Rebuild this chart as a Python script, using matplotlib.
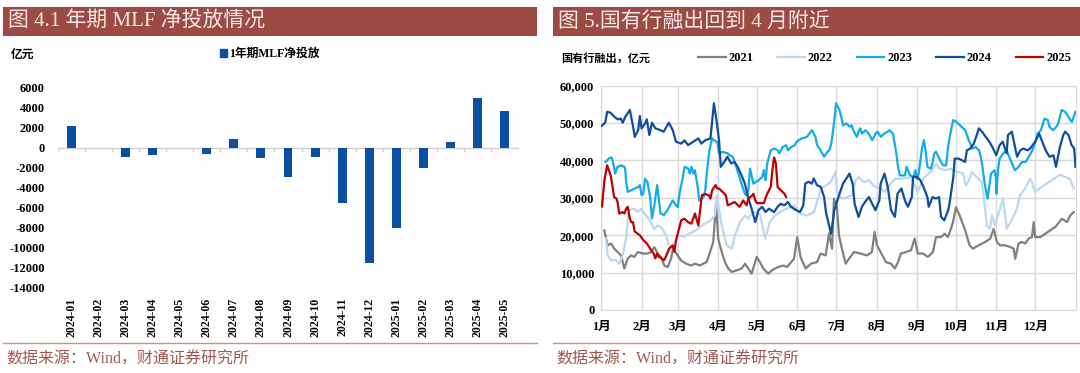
# -*- coding: utf-8 -*-
import matplotlib
matplotlib.use('Agg')
import matplotlib.pyplot as plt
import numpy as np
from matplotlib.patches import Rectangle
from matplotlib.lines import Line2D

plt.rcParams['font.family'] = ['Liberation Serif', 'Noto Sans CJK SC']

# ---------------- 左图：1年期MLF净投放（亿元） ----------------
mlf_months = ['2024-01', '2024-02', '2024-03', '2024-04', '2024-05', '2024-06',
              '2024-07', '2024-08', '2024-09', '2024-10', '2024-11', '2024-12',
              '2025-01', '2025-02', '2025-03', '2025-04', '2025-05']
mlf_net = [2160, 10, -940, -700, 0, -550, 950, -1010, -2910, -890, -5450,
           -11450, -7950, -2000, 630, 5000, 3750]

# ---------------- 右图：国有行融出（亿元），横轴为一年中的第几天 ----------------
month_labels = ['1月', '2月', '3月', '4月', '5月', '6月', '7月', '8月', '9月', '10月', '11月', '12月']
month_start = [0, 31, 59, 90, 120, 151, 181, 212, 243, 273, 304, 334]

d2021 = [2.3, 4.9, 7.5, 10, 12.6, 15.2, 17.7, 20.3, 22.9, 25.4, 28, 31.9, 35.7, 38.2, 40.8, 43.4, 45.9,
         48.5, 51.1, 53.6, 55.4, 58.8, 61.3, 65.2, 69, 72.1, 76, 78.5, 81.1, 83.7, 86.2, 88.3, 90, 92.7,
         95.2, 97.7, 100.4, 104.2, 108.1, 110.6, 113.1, 115.7, 119.6, 122.1, 124.7, 128.5, 131.1, 133.7,
         136.2, 140.1, 142.9, 145.2, 148.3, 150.8, 153.5, 157.3, 161.4, 166, 168.9, 172.7, 175.3, 177.6,
         179.1, 181.4, 182.9, 185.2, 188.1, 190.6, 194.5, 199.6, 204.5, 208.3, 210.4, 212.2, 215, 219.1,
         223, 226, 228.4, 230.6, 234.5, 238.4, 241.2, 243.7, 247.6, 251.4, 255.3, 257.6, 261.4, 264.3,
         266.8, 269.1, 270.7, 273, 275.8, 279.7, 283.5, 286, 290.4, 295.5, 299.4, 302, 304.5, 306.8,
         310.7, 314.5, 317.4, 318.6, 321.2, 323.8, 326.3, 328.9, 331.5, 332.8, 334, 337.9, 341.7, 345.5,
         349.4, 354.6, 358.4, 361, 363.6]
v2021 = [21300, 17300, 17800, 16400, 15500, 14600, 11100, 13700, 14600, 14200, 15500, 15100, 15100,
         15500, 16800, 15100, 14200, 11900, 11500, 13700, 16400, 14600, 13300, 12400, 11900, 12400,
         11900, 12400, 12800, 15500, 18200, 28500, 19100, 15500, 12800, 11100, 10200, 10600, 11100,
         12400, 11100, 9700, 14200, 12800, 11100, 9700, 10600, 11100, 11500, 11900, 11500, 12400, 13700,
         19500, 14000, 11100, 12400, 12800, 15100, 14600, 20500, 16400, 29800, 27600, 20000, 16400,
         12400, 13700, 15500, 15100, 14600, 15500, 20900, 17300, 15500, 12800, 12400, 11100, 12800,
         15100, 15500, 16000, 19100, 15100, 15100, 14200, 15500, 19500, 19500, 20400, 19500, 21700,
         23500, 27500, 25300, 21700, 17300, 16400, 17300, 18200, 19100, 21700, 18200, 17300, 17300,
         16900, 16400, 13700, 17800, 18200, 17800, 19100, 19500, 23500, 19500, 19500, 20400, 21300,
         22200, 24400, 23500, 25300, 26200]

d2022 = [3.6, 4.9, 7.5, 11.3, 13.6, 16.5, 19, 21.3, 25.2, 28, 30.6, 34.4, 36.7, 40.6, 43.4, 45.9, 49.8,
         52.1, 55, 57.5, 59.8, 63.6, 67.5, 70.3, 73.7, 78.3, 83.6, 87.5, 88.8, 92.7, 96.5, 100.4, 102.9,
         106.7, 110.6, 112.9, 116.7, 122.1, 126, 129.8, 133.6, 137.5, 142.7, 148.3, 153.5, 158.3, 163.7,
         166, 168.9, 172.7, 176.5, 180.4, 181.4, 185.2, 189.1, 192.9, 195.8, 198.3, 202.2, 206, 209.9,
         215, 218.3, 220.6, 226, 230.6, 238.4, 243.7, 247.6, 253.7, 257.6, 260.6, 264.5, 269.1, 273.7,
         278.3, 280.6, 283, 285.3, 289.1, 293, 294.5, 296.8, 299.1, 300.7, 303, 309.2, 312.2, 317.6,
         319.9, 322.2, 326.1, 329.9, 331.5, 333.8, 336.9, 340.7, 344.6, 348.4, 353, 356.9, 360.7, 363.8]
v2022 = [19100, 14600, 13300, 13300, 12400, 14600, 19100, 26700, 27100, 26200, 27100, 25300, 24400,
         21700, 22600, 22200, 20000, 17300, 16800, 18200, 20000, 19600, 20400, 20900, 21500, 22900,
         23800, 25300, 30700, 22600, 17300, 16400, 20000, 23500, 25300, 24400, 26200, 25700, 19100,
         23500, 25300, 26200, 27100, 28000, 25700, 25300, 26200, 28900, 32400, 33300, 34200, 36900,
         31600, 29800, 30200, 30700, 34700, 35500, 34200, 34700, 33200, 32400, 31600, 32900, 35100,
         35100, 35600, 31600, 35100, 37000, 39100, 37800, 37400, 37800, 37000, 36600, 33300, 34700,
         36900, 35500, 34200, 30000, 22600, 21700, 25300, 22600, 29800, 21700, 25300, 27100, 30700,
         32400, 35100, 34200, 31600, 32400, 33300, 34200, 35100, 36200, 35600, 35100, 32400]

d2023 = [3.2, 5.8, 8, 9.8, 10.6, 12.5, 15, 17.8, 18.5, 19, 20.4, 23, 25.7, 28.4, 29.7, 31, 32.3, 33.7,
         35.5, 37.6, 39, 40.8, 43, 45.6, 48.2, 50.9, 53.5, 54.9, 57.5, 58.8, 60.2, 62.8, 64.1, 66.8, 68.1,
         69.4, 70.8, 72, 74.2, 75.3, 78.7, 80, 81.4, 83.2, 85.3, 86.7, 89.3, 90.6, 93.3, 97.3, 98.6,
         101.2, 103.9, 107.9, 110.5, 111.8, 113.2, 114.5, 117.1, 121.1, 123.8, 125.1, 126.4, 127.7,
         130.4, 133, 135.7, 137, 139.7, 142.3, 143.6, 146.3, 148.9, 150.3, 154.2, 158.2, 162.2, 163.5,
         164.8, 166.2, 168.8, 170.1, 171.5, 174.1, 175.4, 176.8, 178.1, 179.4, 180.7, 183.4, 184.7, 186,
         188.7, 191.3, 192.7, 194, 195.3, 196.7, 198, 199.3, 200.6, 203.3, 205.9, 207.2, 208.6, 211.2,
         212.5, 215.2, 217.8, 220.5, 221.8, 224.5, 225.8, 227.1, 228.4, 229.8, 233.7, 235, 237.7, 240.4,
         241.7, 243, 244.3, 245.7, 247, 248.3, 249.6, 251, 253.6, 254.9, 256.3, 257.6, 260.2, 262.9,
         265.5, 266.9, 268.2, 270.8, 273.5, 276.1, 280.1, 282.8, 284.1, 285.4, 288.1, 290.7, 292.1,
         293.4, 294.7, 296, 297.3, 300, 302.6, 303.7, 304.2, 305.3, 306.6, 309.3, 311.9, 314.6, 317.2,
         318.5, 321.2, 323.8, 326.5, 329.1, 331.8, 334.4, 335.8, 338.4, 341.1, 343.7, 345, 347.7, 350.3,
         351.7, 353, 354.3, 357, 359.6, 361, 362.3, 363.6, 364.9]
v2023 = [39600, 40500, 40800, 38300, 36500, 38300, 38700, 38300, 37400, 34700, 31600, 32000, 32500,
         32900, 33400, 30700, 31100, 35100, 34200, 30200, 24500, 28000, 33400, 25800, 25400, 26700,
         28400, 29300, 28000, 27500, 31100, 35600, 38300, 37900, 36500, 38300, 36500, 37400, 32900,
         29300, 30200, 32000, 37400, 42700, 45900, 45400, 45000, 41900, 42300, 41900, 41400, 41000,
         38300, 33800, 31100, 30700, 32000, 37800, 33800, 34700, 35600, 37400, 34700, 39200, 42700,
         43200, 42700, 41900, 43600, 44100, 42700, 43600, 44100, 45000, 45900, 46300, 48100, 47200,
         46300, 44100, 42700, 41900, 41000, 42300, 42700, 44100, 47200, 50800, 55300, 53500, 51700,
         49400, 49900, 49000, 49400, 48100, 47200, 46300, 47700, 48600, 47200, 48100, 47200, 46300,
         45400, 47200, 47700, 46300, 47200, 47700, 48100, 47200, 44500, 41900, 38300, 36000, 36000,
         38300, 36000, 35600, 37400, 35100, 36500, 40100, 43600, 45400, 42700, 38300, 37800, 39200,
         41900, 42300, 40500, 38700, 38700, 43600, 46300, 50800, 50300, 49400, 48100, 45400, 44500,
         43200, 43600, 42700, 41000, 38300, 34700, 32000, 29800, 36500, 37400, 35600, 31100, 37400,
         40500, 41900, 42700, 40500, 38300, 37400, 38300, 39600, 39600, 41000, 42700, 45400, 47200,
         48100, 51200, 50800, 49000, 48100, 49000, 49900, 51700, 53500, 53000, 51700, 50800, 50300,
         51700, 53000]

d2024 = [0, 3, 4.5, 7, 10, 12.5, 15, 16.5, 18.5, 21, 22, 24.5, 25.7, 28.4, 29.7, 31, 33.7, 35, 37, 39,
         41.6, 44, 48, 52, 55, 57.5, 61.5, 64, 66.8, 70.7, 74.7, 77, 80, 84, 86.7, 89, 90.6, 92, 94.6,
         97, 100, 102.5, 105, 108, 110.5, 113, 116, 118.5, 121, 123.8, 126.4, 129, 133, 135.7, 138, 141,
         143.6, 146, 150, 153, 155.5, 157, 159.5, 162, 163.5, 166, 169, 171.5, 173, 176.8, 179.4, 183,
         186, 188.7, 191, 193.5, 195, 198, 200.6, 203, 206, 208.6, 211, 214, 215, 218, 220.5, 223, 226,
         228, 231, 233.7, 236, 239, 240, 243, 245.6, 248, 251, 252, 255, 257.6, 260, 261.5, 264, 267,
         268, 271, 272, 275, 277.5, 280, 281.4, 284, 286.7, 289, 290.7, 293, 296, 298.7, 301, 304,
         306.6, 309, 312, 313, 316, 318.5, 320, 322.5, 325, 328, 330, 332, 334, 337, 340, 342, 345, 348,
         350, 353, 355.6, 357, 359.6, 362, 364, 365]
v2024 = [49200, 50100, 53000, 52800, 51700, 51000, 51200, 50100, 51700, 53000, 53500, 49000, 46300,
         48100, 51900, 48600, 49900, 51000, 46800, 50100, 48600, 48300, 47700, 50100, 48100, 45000,
         44500, 45400, 44100, 45000, 45900, 44500, 45400, 45900, 55300, 49900, 45400, 38300, 39600,
         41000, 39200, 39600, 38300, 36000, 33800, 30200, 26700, 23500, 26700, 27600, 26200, 27100,
         26200, 27600, 28400, 28000, 28900, 27600, 26700, 26200, 28000, 33800, 34300, 33800, 35200,
         33400, 32900, 30200, 26000, 20400, 26700, 30700, 33800, 35200, 36500, 33800, 28400, 24900,
         27600, 28900, 30200, 28400, 26700, 29300, 33800, 36500, 32900, 26700, 24900, 31100, 32500,
         29300, 27600, 30200, 35600, 35600, 34700, 32900, 30200, 27600, 30200, 29800, 30200, 24900,
         24000, 26700, 28400, 35600, 40500, 40500, 40100, 39600, 42700, 43200, 44500, 46800, 48600,
         47700, 46300, 45000, 43600, 41400, 44100, 45000, 41900, 46800, 47700, 43600, 41000, 42700,
         43200, 42700, 43200, 44100, 45000, 47200, 44500, 42700, 41000, 41400, 38300, 43600, 46800,
         47700, 46800, 44100, 43200, 38300]

d2025 = [0.5, 2.4, 4.5, 5.8, 7.2, 8.5, 9.8, 11.7, 12.5, 13.8, 16.4, 17.8, 19.1, 20.4, 21.7, 23, 24.4,
         25.7, 29.7, 32.3, 35, 37.6, 40.3, 41.6, 42.9, 44.3, 45.6, 48.2, 49.6, 52.2, 54.9, 56.2, 57.5,
         58.8, 60.2, 61.5, 64.1, 66.8, 69.4, 72.1, 74.7, 77.4, 80, 82.7, 84, 85.3, 88, 89.3, 90.6, 93.3,
         95.9, 97.3, 99.9, 102.6, 105.2, 106.5, 109.2, 111.8, 113.2, 115.8, 117.1, 118.5, 119.8, 125.1,
         127.7, 130.4, 131.7, 133, 134.4, 135.7, 138.3, 141, 142.3]
v2025 = [27700, 34700, 38700, 37400, 36000, 33400, 30200, 29800, 28900, 25800, 26200, 25800, 27100,
         27600, 24900, 23500, 23500, 21000, 20000, 18700, 17800, 16400, 15100, 13800, 15100, 14200,
         14000, 13300, 14200, 16400, 17300, 15600, 18700, 20400, 22200, 24000, 24400, 23500, 23100,
         25800, 22600, 30700, 31000, 30700, 29800, 32000, 33400, 32500, 32500, 31600, 30700, 28000,
         28400, 28900, 28000, 27600, 29300, 28000, 29800, 30500, 31100, 29300, 28600, 28600, 31100,
         32900, 37400, 40800, 39200, 32900, 32000, 31100, 30200]

years = ['2021', '2022', '2023', '2024', '2025']
colors = ['#808080', '#bdd7ee', '#12ace8', '#0f4d9e', '#c00000']

W, H = 1080, 373
banner = '#9c4a44'
src_color = '#a3564e'
num_font = {'family': ['Liberation Serif', 'Noto Sans CJK SC'], 'weight': 'bold', 'size': 9}

fig = plt.figure(figsize=(W / 100, H / 100), dpi=100)


def fx(px):
    return px / W


def fy(py):
    return 1 - py / H


# 标题栏、分隔线、资料来源
for x0, x1, title in [(3, 537, '图 4.1 年期 MLF 净投放情况'), (553, 1080, '图 5.国有行融出回到 4 月附近')]:
    fig.patches.append(Rectangle((fx(x0), fy(36)), fx(x1 - x0), 29 / H, transform=fig.transFigure,
                                 facecolor=banner, edgecolor='none'))
    fig.text(fx(x0 + 5), fy(22), title, color='#f7e9e7', fontsize=15, va='center', ha='left',
             family=['Liberation Serif', 'Noto Sans CJK SC'])
    fig.lines.append(Line2D([fx(x0), fx(x1)], [fy(343), fy(343)], transform=fig.transFigure,
                            color='#cf8d86', lw=1))
    fig.text(fx(x0 + 3), fy(360), '数据来源：Wind，财通证券研究所', color=src_color, fontsize=11.5,
             va='center', ha='left', family=['Liberation Serif', 'Noto Sans CJK SC'])

# ---------------- 左图 ----------------
ax1 = fig.add_axes([fx(57.5), fy(288), fx(461), 200 / H])
x = np.arange(len(mlf_months))
bar_color = '#0b4ea2'
ax1.bar(x, mlf_net, width=0.33, color=bar_color, zorder=3)
ax1.axhline(0, color='#d0d0d0', lw=1, zorder=2)
ax1.vlines(np.arange(-0.5, len(mlf_months)), -350, 0, color='#d0d0d0', lw=1, zorder=2)
ax1.set_xlim(-0.5, len(mlf_months) - 0.5)
ax1.set_ylim(-14000, 6000)
ax1.set_yticks(np.arange(-14000, 6001, 2000))
ax1.set_yticklabels([str(v) for v in range(-14000, 6001, 2000)], fontdict=num_font)
ax1.set_xticks(x)
ax1.set_xticklabels(mlf_months, rotation=90, fontdict=dict(num_font, size=8.5))
ax1.tick_params(axis='y', length=0, pad=9)
ax1.tick_params(axis='x', length=0, pad=7)
for s in ax1.spines.values():
    s.set_visible(False)

fig.text(fx(11), fy(54), '亿元', fontsize=8.5, weight='bold', va='center', ha='left',
         family=['Noto Sans CJK SC'])
ax1.legend(handles=[Rectangle((0, 0), 1, 1, color=bar_color)], labels=['1年期MLF净投放'],
           loc='center left', bbox_to_anchor=(fx(220), fy(54)), bbox_transform=fig.transFigure,
           frameon=False, handlelength=0.6, handleheight=0.6, handletextpad=0.2, borderpad=0,
           borderaxespad=0, prop={'family': ['Liberation Serif', 'Noto Sans CJK SC'], 'weight': 'bold', 'size': 8.5})

# ---------------- 右图 ----------------
ax2 = fig.add_axes([fx(601.3), fy(310), fx(474.2), 224.3 / H])
series = [(d2021, v2021), (d2022, v2022), (d2023, v2023), (d2024, v2024), (d2025, v2025)]
handles = []
for (d, v), yr, c in zip(series, years, colors):
    ln, = ax2.plot(d, v, color=c, lw=1.6, label=yr, zorder=3)
    handles.append(ln)
ax2.set_xlim(0, 365)
ax2.set_ylim(0, 60000)
ax2.set_xticks(month_start)
ax2.set_xticklabels(month_labels, fontdict=num_font)
ax2.set_yticks(np.arange(0, 60001, 10000))
ax2.set_yticklabels(['{:,}'.format(v) for v in range(0, 60001, 10000)], fontdict=num_font)
ax2.grid(True, color='#d9d9d9', lw=1, zorder=0)
ax2.tick_params(axis='both', length=0)
ax2.tick_params(axis='y', pad=5)
ax2.tick_params(axis='x', pad=8)
for s in ax2.spines.values():
    s.set_color('#d9d9d9')

fig.text(fx(561), fy(58), '国有行融出，亿元', fontsize=8, weight='bold', va='center', ha='left',
         family=['Noto Sans CJK SC'])
fig.legend(handles=handles, labels=years, loc='center left', bbox_to_anchor=(fx(698), fy(58)),
           ncol=5, frameon=False, handlelength=2.2, handletextpad=0.25, columnspacing=1.9,
           borderpad=0, borderaxespad=0, prop={'family': 'Liberation Serif', 'weight': 'bold', 'size': 9})

fig.savefig('out.png', dpi=100)
